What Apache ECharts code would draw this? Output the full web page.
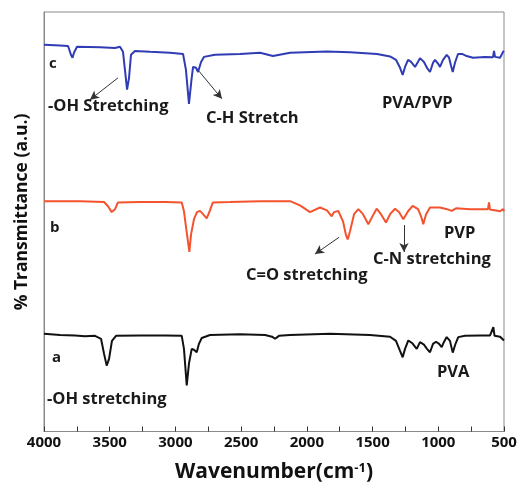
<!DOCTYPE html>
<html>
<head>
<meta charset="utf-8">
<script src="https://cdn.jsdelivr.net/npm/echarts@6/dist/echarts.min.js"></script>
<style>html,body{margin:0;padding:0;background:#fff}#c{width:520px;height:488px}</style>
</head>
<body>
<div id="c"></div>
<script>
// Wavenumber (cm-1), transmittance (a.u.) pairs
const seriesC_PVA_PVP = [
[4000,92.2],[3878,92.0],[3817,91.9],[3795,89.8],[3783,89.1],[3772,90.3],[3749,91.7],[3574,91.6],[3460,91.4],[3422,91.7],
[3399,90.5],[3384,86.2],[3368,81.5],[3353,84.3],[3338,89.8],[3308,90.7],[3193,90.5],[3041,90.3],[2942,90.0],[2920,86.2],
[2897,78.1],[2878,83.8],[2866,86.9],[2843,86.7],[2828,85.7],[2805,88.1],[2783,89.3],[2699,89.8],[2509,90.0],[2356,90.3],
[2258,89.5],[2128,90.3],[1847,90.6],[1672,90.4],[1466,90.0],[1367,89.4],[1322,88.6],[1291,86.7],[1271,85.0],[1253,86.9],
[1230,88.6],[1207,88.1],[1177,86.9],[1155,88.1],[1139,89.0],[1109,88.1],[1086,86.7],[1063,85.7],[1040,87.9],[1025,88.6],
[1002,87.7],[987,86.9],[964,88.6],[936,89.8],[918,89.1],[903,87.2],[890,85.7],[873,87.9],[850,90.0],[819,90.0],
[784,89.5],[736,89.1],[644,89.3],[584,89.2],[576,90.7],[568,89.3],[530,89.1],[507,90.5],[500,90.7]
];
const seriesB_PVP = [
[4000,54.9],[3726,54.9],[3543,54.7],[3513,53.7],[3485,52.3],[3460,53.0],[3437,54.6],[3270,54.7],[3079,54.7],[2952,54.6],
[2935,52.5],[2912,47.0],[2894,42.8],[2881,47.0],[2859,50.6],[2836,52.3],[2813,52.6],[2790,51.8],[2762,50.8],[2737,52.7],
[2716,54.6],[2585,54.7],[2356,54.9],[2242,54.9],[2128,54.9],[2052,53.9],[1976,52.3],[1900,53.4],[1847,52.7],[1811,51.3],
[1793,52.3],[1761,52.6],[1725,50.1],[1702,46.8],[1689,45.8],[1672,47.7],[1641,51.8],[1608,53.0],[1573,51.8],[1532,49.4],
[1504,51.1],[1469,53.1],[1436,51.8],[1398,49.8],[1367,51.8],[1329,53.1],[1299,52.3],[1266,50.6],[1230,52.5],[1195,53.8],
[1154,53.0],[1131,51.3],[1114,49.4],[1093,51.8],[1063,53.4],[987,53.4],[934,53.0],[898,52.6],[865,53.2],[759,53.0],
[622,53.0],[614,54.6],[607,52.9],[561,52.7],[530,52.5],[507,53.0],[500,52.5]
];
const seriesA_PVA = [
[4000,23.3],[3878,23.0],[3764,22.9],[3688,22.7],[3612,22.8],[3566,22.1],[3543,18.5],[3523,15.7],[3505,17.3],[3483,21.6],
[3452,22.8],[3270,22.9],[3079,22.9],[2952,22.8],[2935,19.7],[2914,11.0],[2897,16.2],[2876,19.7],[2859,19.5],[2838,18.9],
[2821,20.9],[2800,22.3],[2737,23.0],[2509,23.2],[2318,23.0],[2265,22.6],[2242,22.1],[2212,22.8],[2128,23.0],[1824,23.3],
[1520,23.0],[1367,22.6],[1322,21.6],[1291,19.2],[1271,17.7],[1253,19.7],[1228,21.7],[1200,21.1],[1164,19.7],[1139,21.3],
[1109,20.7],[1086,19.7],[1063,18.9],[1040,20.9],[1017,21.4],[994,20.9],[974,20.1],[956,21.4],[936,22.5],[911,21.6],
[890,18.8],[869,20.9],[848,22.5],[797,22.8],[682,22.9],[606,22.9],[591,23.0],[581,24.9],[572,22.8],[530,22.6],
[515,22.8],[500,21.7]
];
const xTickLabels = ['500','1000','1500','2000','2500','3000','3500','4000'];
// annotation arrows: [from, to] in data coordinates
const arrowOH = [[3437,84.3],[3650,79.1]];
const arrowCH = [[2821,85.9],[2646,79.3]];
const arrowCO = [[1755,46.3],[1938,42.3]];
const arrowCN = [[1261,49.2],[1261,42.8]];

const chart = echarts.init(document.getElementById('c'));
const F = '"Open Sans", "DejaVu Sans", sans-serif';
const arrowLine = (a) => [{coord:a[0], symbol:'none'},{coord:a[1], symbol:'arrow', symbolSize:[7,9]}];
function txt(s, left, cy, size) {
  return {type:'text', left:left, top:cy - size*0.68, z:100,
    style:{text:s, font:'bold ' + size + 'px ' + F, fill:'#1a1a1a'}};
}
chart.setOption({
  animation:false,
  backgroundColor:'#fff',
  grid:{left:44, right:16, top:12, bottom:54, show:true, borderColor:'#8a8a8a', borderWidth:1},
  xAxis:{
    type:'value', inverse:true, min:500, max:4000, interval:500,
    axisLine:{show:true, lineStyle:{color:'#8a8a8a', width:1}},
    axisTick:{show:true, inside:true, length:5, lineStyle:{color:'#333'}},
    minorTick:{show:true, splitNumber:2, length:5, lineStyle:{color:'#333'}},
    splitLine:{show:false},
    axisLabel:{margin:4, color:'#111', fontFamily:F, fontWeight:'bold', fontSize:15,
      formatter:(v)=> xTickLabels.indexOf(String(v))>=0 ? String(v) : ''},
    name:'Wavenumber(cm{s|-1})', nameLocation:'middle', nameGap:30,
    nameTextStyle:{color:'#111', fontFamily:F, fontWeight:'bold', fontSize:21,
      rich:{s:{fontSize:13, fontWeight:'bold', fontFamily:F, color:'#111', verticalAlign:'top', padding:[0,0,9,0]}}}
  },
  yAxis:{
    type:'value', min:0, max:100,
    axisLine:{show:true, lineStyle:{color:'#8a8a8a', width:1}},
    axisTick:{show:false}, axisLabel:{show:false}, splitLine:{show:false}
  },
  series:[
    {name:'PVA/PVP', type:'line', data:seriesC_PVA_PVP, showSymbol:false, lineStyle:{color:'#2f3cb4', width:2},
      markLine:{silent:true, symbol:['none','arrow'], label:{show:false}, lineStyle:{color:'#333', width:1, type:'solid'},
        data:[arrowLine(arrowOH), arrowLine(arrowCH)]}},
    {name:'PVP', type:'line', data:seriesB_PVP, showSymbol:false, lineStyle:{color:'#f4532f', width:2},
      markLine:{silent:true, symbol:['none','arrow'], label:{show:false}, lineStyle:{color:'#333', width:1, type:'solid'},
        data:[arrowLine(arrowCO), arrowLine(arrowCN)]}},
    {name:'PVA', type:'line', data:seriesA_PVA, showSymbol:false, lineStyle:{color:'#111', width:2}}
  ],
  graphic:[
    {type:'text', x:22, y:212, rotation:Math.PI/2, z:100,
      style:{text:'% Transmittance (a.u.)', font:'bold 17.5px ' + F, fill:'#111', align:'center', verticalAlign:'middle'}},
    txt('c', 49, 66, 15),
    txt('-OH Stretching', 48, 109, 16.5),
    txt('C-H Stretch', 206, 121, 16.5),
    txt('PVA/PVP', 382, 106, 16.5),
    txt('b', 50, 230, 15),
    txt('C=O stretching', 246, 278, 16.5),
    txt('C-N stretching', 373, 262, 16.5),
    txt('PVP', 444, 236, 16.5),
    txt('a', 52, 360, 15),
    txt('-OH stretching', 47, 402, 16.5),
    txt('PVA', 437, 375, 16.5)
  ]
});
</script>
</body>
</html>
